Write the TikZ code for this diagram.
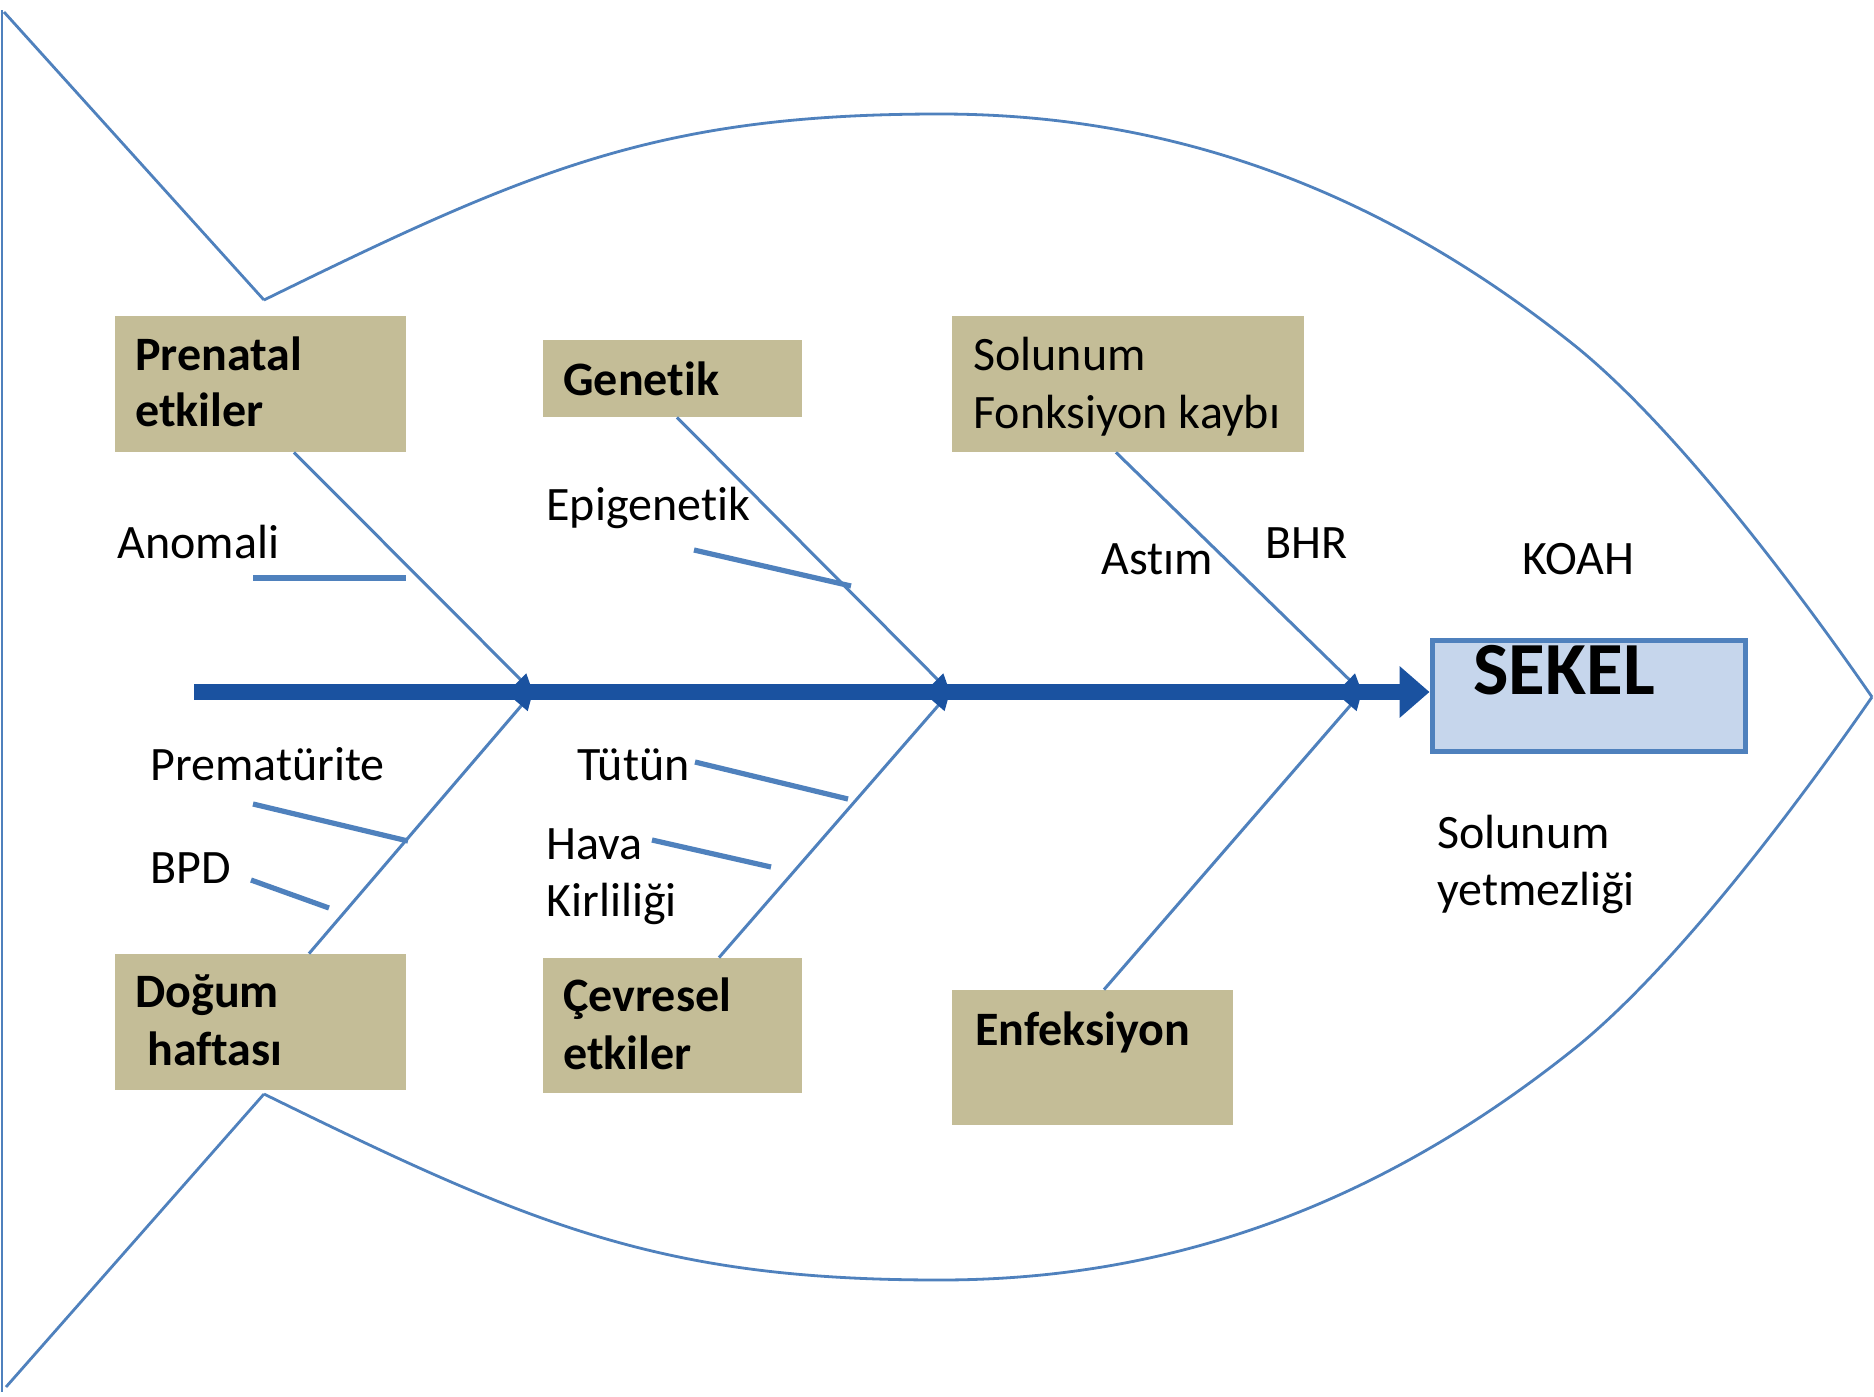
\documentclass[tikz,border=0pt]{standalone}
\usepackage{fontspec}
\setmainfont{Carlito}[Ligatures=NoCommon]
\usetikzlibrary{arrows.meta,fit}
\definecolor{fishblue}{HTML}{4F81BD}
\definecolor{spineblue}{HTML}{1A52A0}
\definecolor{tanbox}{HTML}{C4BD97}
\definecolor{sekelfill}{HTML}{C6D6EC}
\tikzset{
  outline/.style={draw=fishblue, line width=1.4pt, line join=miter},
  causebox/.style={fill=tanbox, draw=none, inner sep=0pt},
  bone/.style={draw=fishblue, line width=1.5pt, -{Triangle[length=9pt,width=8pt,color=spineblue]}},
  twig/.style={draw=fishblue, line width=2.6pt},
  lbl/.style={anchor=base west, inner sep=0pt, font=\fontsize{24}{28.5}\selectfont, align=left},
  boxlbl/.style={anchor=base west, inner sep=0pt, font=\bfseries\fontsize{24}{28}\selectfont, align=left},
  spine/.style={draw=spineblue, line width=8pt, -{Triangle[length=15pt,width=25pt]}},
}
\begin{document}
\begin{tikzpicture}[x=0.5pt,y=-0.5pt]
\useasboundingbox (0,0) rectangle (1874,1397);
\fill[white] (0,0) rectangle (1874,1397);
% fish outline
\draw[outline] (2,10) -- (2,1392);
\draw[outline] (4,12) -- (264,300);
\draw[outline] (264,1094) -- (6,1387);
\draw[outline] (264,300) .. controls (533,168) and (660,114) .. (940,114)
  .. controls (1190,114) and (1395,202) .. (1574,345)
  .. controls (1675,426) and (1798,590) .. (1872,697);
\draw[outline] (264,1094) .. controls (533,1226) and (660,1280) .. (940,1280)
  .. controls (1190,1280) and (1395,1192) .. (1574,1049)
  .. controls (1675,968) and (1798,804) .. (1872,697);
% boxes
\node[causebox, fit={(115,316) (406,452)}] (pren) {};
\node[causebox, fit={(543,340) (802,417)}] (gen) {};
\node[causebox, fit={(952,316) (1304,452)}] (sol) {};
\node[causebox, fit={(115,954) (406,1090)}] (dog) {};
\node[causebox, fit={(543,958) (802,1093)}] (cev) {};
\node[causebox, fit={(952,990) (1233,1125)}] (enf) {};
\node[fill=sekelfill, draw=fishblue, line width=2.5pt, inner sep=0pt, fit={(1432,640) (1745,751)}] (sekel) {};
% box texts (base = last line)
\node[boxlbl] (prenT) at (135,426) {Prenatal\\etkiler};
\node[boxlbl] (genT) at (563,395) {Genetik};
\node[lbl, font=\fontsize{24}{29}\selectfont] (solT) at (973,428) {Solunum\\Fonksiyon kaybı};
\node[boxlbl, font=\bfseries\fontsize{24}{29}\selectfont] (dogT) at (135,1065) {Doğum\\\hspace{6pt}haftası};
\node[boxlbl, font=\bfseries\fontsize{24}{29}\selectfont] (cevT) at (563,1069) {Çevresel\\etkiler};
\node[boxlbl] (enfT) at (975,1045) {Enfeksiyon};
\node[anchor=base west, inner sep=0pt, font=\bfseries\fontsize{37.5}{40}\selectfont] (sekelT) at (1473,694) {SEKEL};
% spine
\coordinate (s0) at (194,692);
\coordinate (j1) at (533,692);
\coordinate (j2) at (950,692);
\coordinate (j3) at (1362,692);
\draw[spine] (s0) -- (s0 -| sekel.west);
% bones
\draw[bone] (294,0 |- pren.south) -- (j1);
\draw[bone] (677,0 |- gen.south) -- (j2);
\draw[bone] (1116,0 |- sol.south) -- (j3);
\draw[bone] (309,0 |- dog.north) -- (j1);
\draw[bone] (719,0 |- cev.north) -- (j2);
\draw[bone] (1104,0 |- enf.north) -- (j3);
% twigs
\draw[twig] (253,578) -- (406,578);
\draw[twig] (694,550) -- (851,586);
\draw[twig] (253,804) -- (408,841);
\draw[twig] (251,880) -- (329,908);
\draw[twig] (695,762) -- (848,799);
\draw[twig] (652,840) -- (771,867);
% labels
\node[lbl] (anom) at (117,558) {Anomali};
\node[lbl] (epi) at (546,520) {Epigenetik};
\node[lbl] (ast) at (1101,574) {Astım};
\node[lbl] (bhr) at (1265,558) {BHR};
\node[lbl] (koah) at (1522,574) {KOAH};
\node[lbl] (prem) at (150,780) {Prematürite};
\node[lbl] (bpd) at (150,883) {BPD};
\node[lbl] (tut) at (577,780) {Tütün};
\node[lbl] (hava) at (546,916) {Hava\\Kirliliği};
\node[lbl] (sy) at (1437,905) {Solunum\\yetmezliği};
\end{tikzpicture}
\end{document}
